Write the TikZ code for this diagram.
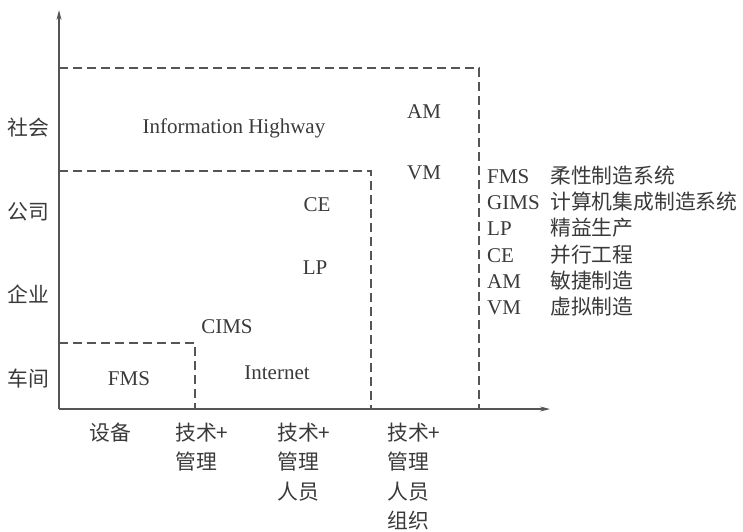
\documentclass[tikz,border=0pt]{standalone}
\usepackage{fontspec}
\setmainfont{Liberation Serif}
\newfontfamily\cjk{Noto Sans CJK SC}
\usetikzlibrary{arrows.meta}
\definecolor{ink}{HTML}{3A3A3A}
\definecolor{linec}{HTML}{555555}
\begin{document}
\begin{tikzpicture}[x=1pt,y=-1pt,
  lat/.style={font=\fontsize{21}{25}\selectfont, text=ink, inner sep=0pt, anchor=base},
  latw/.style={lat, anchor=base west},
  zh/.style={font=\cjk\fontsize{20.8}{25}\selectfont, text=ink, inner sep=0pt, anchor=base west},
  dline/.style={draw=linec, line width=1.1pt, dash pattern=on 9pt off 5pt},
  axis/.style={draw=linec, line width=1.2pt, -{Stealth[length=10pt,width=5pt]}}]
\useasboundingbox (0,0) rectangle (743,531);
% axes
\coordinate (O) at (59,409);
\coordinate (ytip) at (59,10);
\coordinate (xtip) at (550,409);
\draw[axis] (O) -- (ytip);
\draw[axis] (O) -- (xtip);
% dashed regions
\coordinate (o1) at (59,68);  \coordinate (o2) at (479,68);  \coordinate (o3) at (479,409);
\coordinate (m1) at (59,171); \coordinate (m2) at (371,171); \coordinate (m3) at (371,409);
\coordinate (i1) at (59,343); \coordinate (i2) at (195,343); \coordinate (i3) at (195,409);
\draw[dline] (o1) -- (o2) -- (o3);
\draw[dline] (m1) -- (m2) -- (m3);
\draw[dline] (i1) -- (i2) -- (i3);
% y-axis labels
\node[zh] (y1) at (7,135) {社会};
\node[zh] (y2) at (7,219) {公司};
\node[zh] (y3) at (7,302) {企业};
\node[zh] (y4) at (7,386) {车间};
% x-axis labels
\node[zh] (x1) at (89,440) {设备};
\node[zh] (x2a) at (175,440) {技术+};
\node[zh] (x2b) at (175,469.5) {管理};
\node[zh] (x3a) at (277,440) {技术+};
\node[zh] (x3b) at (277,469.5) {管理};
\node[zh] (x3c) at (277,499) {人员};
\node[zh] (x4a) at (387,440) {技术+};
\node[zh] (x4b) at (387,469.5) {管理};
\node[zh] (x4c) at (387,499) {人员};
\node[zh] (x4d) at (387,528.5) {组织};
% inner labels
\node[lat] (ih) at (234,133) {Information Highway};
\node[lat] (am) at (424,118) {AM};
\node[lat] (vm) at (424,179) {VM};
\node[lat] (ce) at (317,211) {CE};
\node[lat] (lp) at (315,274) {LP};
\node[lat] (cims) at (227,333) {CIMS};
\node[lat] (inet) at (277,379) {Internet};
\node[lat] (fms) at (129,385) {FMS};
% legend
\node[latw] (l1) at (487,183) {FMS};
\node[latw] (l2) at (487,209.3) {GIMS};
\node[latw] (l3) at (487,235.6) {LP};
\node[latw] (l4) at (487,262) {CE};
\node[latw] (l5) at (487,288) {AM};
\node[latw] (l6) at (487,314.5) {VM};
\node[zh] (t1) at (550,183) {柔性制造系统};
\node[zh] (t2) at (550,209.3) {计算机集成制造系统};
\node[zh] (t3) at (550,235.6) {精益生产};
\node[zh] (t4) at (550,262) {并行工程};
\node[zh] (t5) at (550,288) {敏捷制造};
\node[zh] (t6) at (550,314.5) {虚拟制造};
\end{tikzpicture}
\end{document}
